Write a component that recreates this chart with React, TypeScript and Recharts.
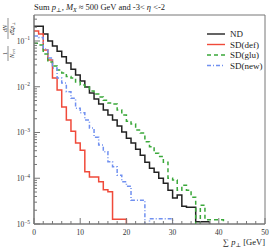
import React from 'react';
import { LineChart, Line, XAxis, YAxis, Legend, ReferenceArea } from 'recharts';

// bin lower edges, 1 GeV bins
const binEdges = [
  0, 1, 2, 3, 4, 5, 6, 7, 8, 9, 10, 11, 12, 13, 14, 15, 16, 17, 18, 19, 20,
  21, 22, 23, 24, 25, 26, 27, 28, 29, 30, 31, 32, 33, 34, 35, 36, 37, 38, 39, 40, 41,
];

// empty bin: sits below the axis so the step falls to the bottom
const EMPTY = 1e-9;

const ndValues = [
  0.21, 0.21, 0.142, 0.1, 0.078, 0.06, 0.045, 0.033, 0.024, 0.018, 0.0133,
  0.0099, 0.0073, 0.0054, 0.0042, 0.0031, 0.0024, 0.00187, 0.00138, 0.00102, 0.00075,
  0.00059, 0.00043, 0.00032, 0.000225, 0.000166, 0.000136, 0.0001, 0.000078, 0.000055, 0.000037,
  0.000043, 0.0000245, 0.0000233, 0.0000233, 0.0000112, 0.0000112, 0.0000112, EMPTY,
];
const defValues = [
  0.165, 0.142, 0.0635, 0.0384, 0.0155, 0.0085, 0.0036, 0.00187, 0.00107, 0.00059, 0.00041,
  0.000138, 0.000107, 0.000107, 0.0000834, 0.0000563, 0.0000504, 0.0000127, 0.0000127, 0.0000127, EMPTY,
];
const gluValues = [
  0.089, 0.082, 0.052, 0.0347, 0.0284, 0.0232, 0.0199, 0.0167, 0.0155, 0.0127, 0.0109,
  0.0099, 0.0081, 0.0069, 0.006, 0.0051, 0.0044, 0.0042, 0.0031, 0.0024, 0.00177,
  0.00153, 0.00113, 0.00097, 0.00063, 0.00049, 0.00035, 0.0003, 0.000225, 0.0001, 0.000091,
  0.000055, 0.0000706, 0.000055, 0.0000386, EMPTY, 0.0000258, 0.0000124, 0.0000124, 0.0000124, 0.0000124,
  EMPTY,
];
const newValues = [
  0.128, 0.119, 0.067, 0.0425, 0.0256, 0.0155, 0.012, 0.0078, 0.0056, 0.0034, 0.0027,
  0.00187, 0.00125, 0.00079, 0.00053, 0.00038, 0.00023, 0.000178, 0.000117, 0.0000834, 0.0000671,
  0.0000332, 0.0000332, 0.0000332, EMPTY, 0.0000131, 0.0000131, 0.0000131, 0.0000131, 0.0000131, EMPTY,
];

const seriesKeys = ['nd', 'def', 'glu', 'new'];
const seriesNames = ['ND', 'SD(def)', 'SD(glu)', 'SD(new)'];
const seriesColors = ['#222222', '#f04a3a', '#3aa83a', '#7090f0'];
const seriesDashes = [undefined, undefined, '4 3', '4 2 1 2'];

const xTicks = [0, 2, 4, 6, 8, 10, 12, 14, 16, 18, 20, 22, 24, 26, 28, 30, 32, 34, 36, 38, 40, 42, 44, 46, 48, 50];
const yDecades = [1e-5, 1e-4, 1e-3, 1e-2, 1e-1];
const yMax = 0.37;

const yTicks: number[] = [];
yDecades.forEach((d) => {
  [1, 2, 3, 4, 5, 6, 7, 8, 9].forEach((m) => {
    if (d * m <= yMax) yTicks.push(d * m);
  });
});

const data = binEdges.map((x, i) => ({
  x,
  nd: ndValues[i] ?? null,
  def: defValues[i] ?? null,
  glu: gluValues[i] ?? null,
  new: newValues[i] ?? null,
}));

const serif = "'Liberation Serif', 'DejaVu Serif', serif";
const axisGray = '#777';

const XTick = (props: any) => {
  const { x, y, payload } = props;
  const major = payload.value % 10 === 0;
  return (
    <g>
      <line x1={x} x2={x} y1={y} y2={y - (major ? 6 : 3)} stroke={axisGray} />
      {major && (
        <text x={x} y={y + 10.5} textAnchor="middle" fontSize={7.5} fontFamily={serif} fill="#333">
          {payload.value}
        </text>
      )}
    </g>
  );
};

const YTick = (props: any) => {
  const { x, y, payload } = props;
  const lg = Math.log10(payload.value);
  const exp = Math.round(lg);
  const major = Math.abs(lg - exp) < 1e-6;
  return (
    <g>
      <line x1={x} x2={x + (major ? 6 : 3)} y1={y} y2={y} stroke={axisGray} />
      {major && (
        <text x={x - 4} y={y + 3} textAnchor="end" fontSize={7.5} fontFamily={serif} fill="#333">
          10
          <tspan dy={-3.5} fontSize={5.5}>
            {'\u2212' + -exp}
          </tspan>
        </text>
      )}
    </g>
  );
};

const XLabel = (props: any) => {
  const { viewBox } = props;
  return (
    <text x={viewBox.x + viewBox.width} y={viewBox.y + 21} textAnchor="end" fontSize={8.5} fontFamily={serif} fill="#222">
      {'\u2211 '}
      <tspan fontStyle="italic">p</tspan>
      <tspan fontSize={6} dy={1.5}>{'\u22a5'}</tspan>
      <tspan dy={-1.5}> [GeV]</tspan>
    </text>
  );
};

const YLabel = () => (
  <g transform="translate(8, 40) rotate(-90)" fontFamily={serif} fill="#222" fontSize={6}>
    <text x={-13.5} y={-1.5} textAnchor="middle">1</text>
    <line x1={-21} x2={-6} y1={0} y2={0} stroke="#222" strokeWidth={0.5} />
    <text x={-13.5} y={5.5} textAnchor="middle">
      <tspan fontStyle="italic">N</tspan>
      <tspan fontSize={4} dy={1}>evt</tspan>
    </text>
    <text x={11.5} y={-1.5} textAnchor="middle" fontStyle="italic">dN</text>
    <line x1={1} x2={22} y1={0} y2={0} stroke="#222" strokeWidth={0.5} />
    <text x={11.5} y={5.5} textAnchor="middle">
      <tspan fontStyle="italic">d</tspan>
      {'\u03a3'}
      <tspan fontStyle="italic">p</tspan>
      <tspan fontSize={4} dy={1}>{'\u22a5'}</tspan>
    </text>
  </g>
);

const renderLegend = () => (
  <svg width={69} height={44}>
    {seriesNames.map((name, i) => (
      <g key={name}>
        <line
          x1={2}
          x2={20}
          y1={6 + i * 10.5}
          y2={6 + i * 10.5}
          stroke={seriesColors[i]}
          strokeWidth={1.4}
          strokeDasharray={seriesDashes[i]}
        />
        <text x={25} y={9 + i * 10.5} fontSize={9} fontFamily={serif} fill="#222">
          {name}
        </text>
      </g>
    ))}
  </svg>
);

export default function App() {
  return (
    <div style={{ position: 'absolute', left: 0, top: 0, width: 274, height: 248, background: '#fff' }}>
      <LineChart width={274} height={248} data={data} margin={{ top: 15, right: 9, bottom: 0, left: 0 }}>
        <XAxis
          dataKey="x"
          type="number"
          domain={[0, 50]}
          ticks={xTicks}
          height={24}
          tickSize={0}
          tickMargin={0}
          tickLine={false}
          stroke={axisGray}
          tick={<XTick />}
          interval={0}
          allowDataOverflow
          label={<XLabel />}
        />
        <YAxis
          type="number"
          scale="log"
          domain={[1e-5, yMax]}
          ticks={yTicks}
          width={34}
          tickSize={0}
          tickMargin={0}
          tickLine={false}
          stroke={axisGray}
          tick={<YTick />}
          interval={0}
          allowDataOverflow
          label={<YLabel />}
        />
        <ReferenceArea x1={0} x2={50} y1={1e-5} y2={yMax} fill="none" stroke={axisGray} strokeWidth={1} />
        {seriesKeys.map((k, i) => (
          <Line
            key={k}
            dataKey={k}
            name={seriesNames[i]}
            type="stepAfter"
            stroke={seriesColors[i]}
            strokeWidth={1.5}
            strokeDasharray={seriesDashes[i]}
            dot={false}
            activeDot={false}
            isAnimationActive={false}
            connectNulls={false}
          />
        ))}
        <Legend
          layout="vertical"
          align="center"
          verticalAlign="middle"
          content={renderLegend}
          wrapperStyle={{ position: 'absolute', left: 205, top: 28, width: 69, height: 44 }}
        />
      </LineChart>
      <svg width={274} height={16} style={{ position: 'absolute', left: 0, top: 0, pointerEvents: 'none' }}>
        <text x={34} y={10} fontSize={8.5} fontFamily={serif} fill="#222">
          {'Sum '}
          <tspan fontStyle="italic">p</tspan>
          <tspan fontSize={6} dy={1.5}>{'\u22a5'}</tspan>
          <tspan dy={-1.5}>{', '}</tspan>
          <tspan fontStyle="italic">M</tspan>
          <tspan fontSize={6} dy={1.5} fontStyle="italic">X</tspan>
          <tspan dy={-1.5}>{' \u2248 500 GeV and -3< '}</tspan>
          <tspan fontStyle="italic">{'\u03b7'}</tspan>
          {' <-2'}
        </text>
      </svg>
    </div>
  );
}
